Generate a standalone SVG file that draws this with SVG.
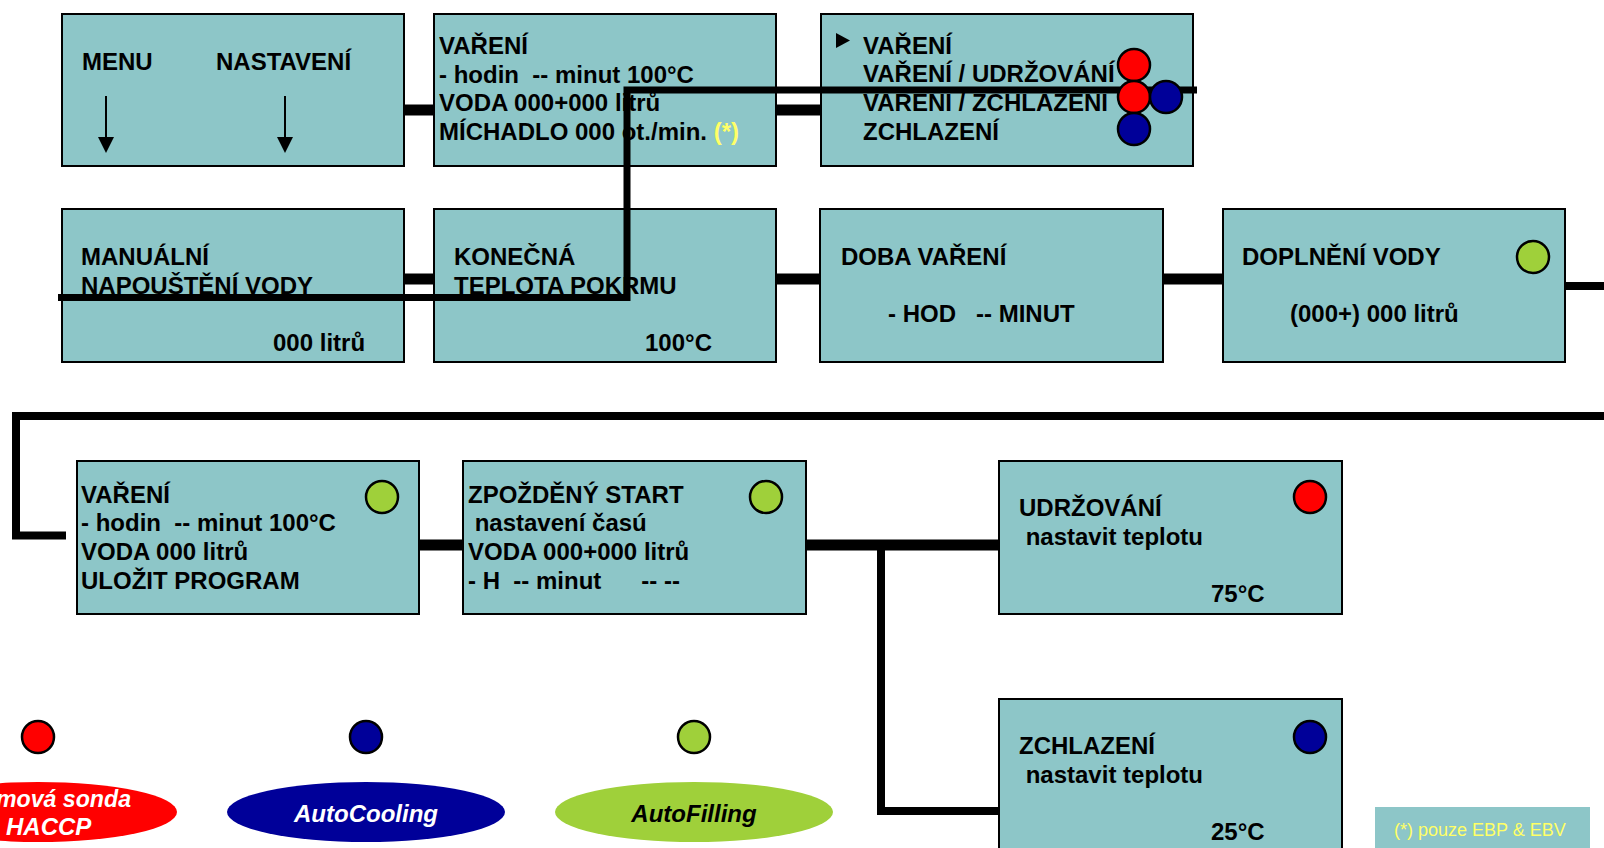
<svg xmlns="http://www.w3.org/2000/svg" width="1604" height="848" viewBox="0 0 1604 848">
<style>
.box{fill:#8DC6C8;stroke:#000;stroke-width:2}
.t{font-family:"Liberation Sans",Arial,sans-serif;font-weight:bold;font-size:24px;fill:#000;white-space:pre}
.y{fill:#FFFF66}
.note{font-family:"Liberation Sans",Arial,sans-serif;font-size:18px;fill:#FFFF66}
.leg{font-family:"Liberation Sans",Arial,sans-serif;font-weight:bold;font-style:italic;font-size:24px}
.red{fill:#FF0000;stroke:#000;stroke-width:2.5}
.blue{fill:#000099;stroke:#000;stroke-width:2.5}
.green{fill:#9FD03A;stroke:#000;stroke-width:2.5}
.c{fill:none;stroke:#000}
</style>
<rect width="1604" height="848" fill="#fff"/>

<g id="connectors">
<line class="c" x1="404" y1="110" x2="434" y2="110" stroke-width="11"/>
<line class="c" x1="776" y1="110" x2="820" y2="110" stroke-width="11"/>
<line class="c" x1="404" y1="279" x2="434" y2="279" stroke-width="11"/>
<line class="c" x1="776" y1="279" x2="820" y2="279" stroke-width="11"/>
<line class="c" x1="1163" y1="279" x2="1223" y2="279" stroke-width="11"/>
<line class="c" x1="1565" y1="286" x2="1604" y2="286" stroke-width="8"/>
<polyline class="c" points="1604,416 16,416 16,535.5 66,535.5" stroke-width="8"/>
<line class="c" x1="419" y1="545" x2="463" y2="545" stroke-width="11"/>
<line class="c" x1="806" y1="545" x2="999" y2="545" stroke-width="11"/>
<polyline class="c" points="881,545 881,811 999,811" stroke-width="8"/>
</g>

<g id="node-menu">
<rect class="box" x="62" y="14" width="342" height="152"/>
<text class="t" x="82" y="70">MENU</text>
<text class="t" x="216" y="70">NASTAVENÍ</text>
<line x1="106" y1="96" x2="106" y2="137" stroke="#000" stroke-width="2"/>
<path d="M98,137 L114,137 L106,153 Z" fill="#000"/>
<line x1="285" y1="96" x2="285" y2="137" stroke="#000" stroke-width="2"/>
<path d="M277,137 L293,137 L285,153 Z" fill="#000"/>
</g>

<g id="node-vareni">
<rect class="box" x="434" y="14" width="342" height="152"/>
<text class="t" x="439" y="54">VAŘENÍ</text>
<text class="t" x="439" y="83">- hodin  -- minut 100°C</text>
<text class="t" x="439" y="111">VODA 000+000 litrů</text>
<text class="t" x="439" y="140">MÍCHADLO 000 ot./min. <tspan class="y">(*)</tspan></text>
</g>

<g id="node-program">
<rect class="box" x="821" y="14" width="372" height="152"/>
<path d="M836,33 L836,48 L850,40.5 Z" fill="#000"/>
<text class="t" x="863" y="54">VAŘENÍ</text>
<text class="t" x="863" y="82">VAŘENÍ / UDRŽOVÁNÍ</text>
<text class="t" x="863" y="111">VAŘENÍ / ZCHLAZENÍ</text>
<text class="t" x="863" y="140">ZCHLAZENÍ</text>
</g>

<g id="node-manualni">
<rect class="box" x="62" y="209" width="342" height="153"/>
<text class="t" x="81" y="265">MANUÁLNÍ</text>
<text class="t" x="81" y="294">NAPOUŠTĚNÍ VODY</text>
<text class="t" x="273" y="351">000 litrů</text>
</g>

<g id="node-konecna">
<rect class="box" x="434" y="209" width="342" height="153"/>
<text class="t" x="454" y="265">KONEČNÁ</text>
<text class="t" x="454" y="294">TEPLOTA POKRMU</text>
<text class="t" x="645" y="351">100°C</text>
</g>

<g id="node-doba">
<rect class="box" x="820" y="209" width="343" height="153"/>
<text class="t" x="841" y="265">DOBA VAŘENÍ</text>
<text class="t" x="888" y="322">- HOD   -- MINUT</text>
</g>

<g id="node-doplneni">
<rect class="box" x="1223" y="209" width="342" height="153"/>
<text class="t" x="1242" y="265">DOPLNĚNÍ VODY</text>
<text class="t" x="1290" y="322">(000+) 000 litrů</text>
<circle class="green" cx="1533" cy="257" r="16"/>
</g>

<g id="node-vareni2">
<rect class="box" x="77" y="461" width="342" height="153"/>
<text class="t" x="81" y="503">VAŘENÍ</text>
<text class="t" x="81" y="531">- hodin  -- minut 100°C</text>
<text class="t" x="81" y="560">VODA 000 litrů</text>
<text class="t" x="81" y="589">ULOŽIT PROGRAM</text>
<circle class="green" cx="382" cy="497" r="16"/>
</g>

<g id="node-start">
<rect class="box" x="463" y="461" width="343" height="153"/>
<text class="t" x="468" y="503">ZPOŽDĚNÝ START</text>
<text class="t" x="468" y="531"> nastavení časú</text>
<text class="t" x="468" y="560">VODA 000+000 litrů</text>
<text class="t" x="468" y="589">- H  -- minut      -- --</text>
<circle class="green" cx="766" cy="497" r="16"/>
</g>

<g id="node-udrzovani">
<rect class="box" x="999" y="461" width="343" height="153"/>
<text class="t" x="1019" y="516">UDRŽOVÁNÍ</text>
<text class="t" x="1019" y="545"> nastavit teplotu</text>
<text class="t" x="1211" y="602">75°C</text>
<circle class="red" cx="1310" cy="497" r="16"/>
</g>

<g id="node-zchlazeni">
<rect class="box" x="999" y="699" width="343" height="160"/>
<text class="t" x="1019" y="754">ZCHLAZENÍ</text>
<text class="t" x="1019" y="783"> nastavit teplotu</text>
<text class="t" x="1211" y="840">25°C</text>
<circle class="blue" cx="1310" cy="737" r="16"/>
</g>

<g id="overlay-line">
<polyline class="c" points="58,297.5 627,297.5 627,90 1197,90" stroke-width="7"/>
</g>

<g id="node-program-indicators">
<circle class="red" cx="1134" cy="65" r="16"/>
<circle class="red" cx="1134" cy="97" r="16"/>
<circle class="blue" cx="1166" cy="97" r="16"/>
<circle class="blue" cx="1134" cy="129" r="16"/>
</g>

<g id="legend-red">
<circle class="red" cx="38" cy="737" r="16"/>
<ellipse cx="38" cy="812" rx="139" ry="30" fill="#FF0000"/>
<text class="leg" x="-4" y="807" fill="#fff" textLength="135" lengthAdjust="spacingAndGlyphs">mová sonda</text>
<text class="leg" x="6" y="835" fill="#fff">HACCP</text>
</g>
<g id="legend-blue">
<circle class="blue" cx="366" cy="737" r="16"/>
<ellipse cx="366" cy="812" rx="139" ry="30" fill="#000099"/>
<text class="leg" x="366" y="822" fill="#fff" text-anchor="middle">AutoCooling</text>
</g>
<g id="legend-green">
<circle class="green" cx="694" cy="737" r="16"/>
<ellipse cx="694" cy="812" rx="139" ry="30" fill="#9FD03A"/>
<text class="leg" x="694" y="822" fill="#000" text-anchor="middle">AutoFilling</text>
</g>

<g id="note">
<rect x="1375" y="807" width="215" height="45" fill="#8DC6C8"/>
<text class="note" x="1394" y="836">(*) pouze EBP &amp; EBV</text>
</g>
</svg>
